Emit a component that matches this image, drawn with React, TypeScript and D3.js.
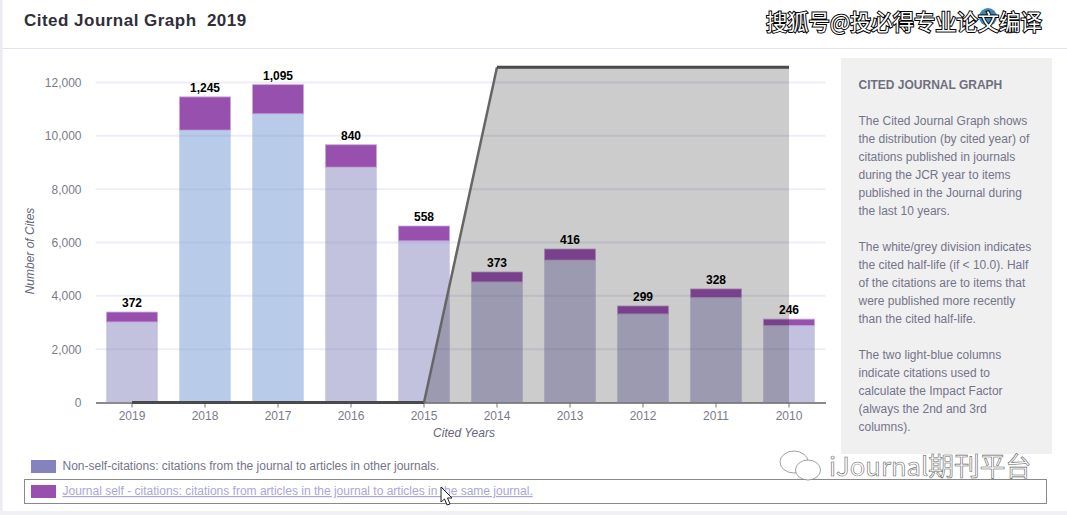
// App.tsx
import React, { useEffect, useRef } from 'react';
import * as d3 from 'd3';

const years = ['2019', '2018', '2017', '2016', '2015', '2014', '2013', '2012', '2011', '2010'];
const nonSelfCites = [3020, 10215, 10825, 8825, 6060, 4520, 5340, 3320, 3930, 2880];
const selfCites = [372, 1245, 1095, 840, 558, 373, 416, 299, 328, 246];
const impactYears = ['2018', '2017'];
const yTicks = [0, 2000, 4000, 6000, 8000, 10000, 12000];
const halfLifeTop = 12570;

const sidebarLines = [
  ['The Cited Journal Graph shows', 'the distribution (by cited year) of', 'citations published in journals', 'during the JCR year to items', 'published in the Journal during', 'the last 10 years.'],
  ['The white/grey division indicates', 'the cited half-life (if < 10.0). Half', 'of the citations are to items that', 'were published more recently', 'than the cited half-life.'],
  ['The two light-blue columns', 'indicate citations used to', 'calculate the Impact Factor', '(always the 2nd and 3rd', 'columns).'],
];

const FONT = '"Liberation Sans", Arial, sans-serif';
const CJK = '"Noto Sans CJK SC", sans-serif';
const WIDTH = 1067;
const HEIGHT = 515;

const App: React.FC = () => {
  const svgRef = useRef<SVGSVGElement>(null);

  useEffect(() => {
    if (!svgRef.current) return;
    const svg = d3.select(svgRef.current);
    svg.selectAll('*').remove();
    svg.style('font-family', FONT);

    // card frame
    svg.append('rect').attr('width', WIDTH).attr('height', HEIGHT).attr('fill', '#fff');
    svg.append('rect').attr('x', 0).attr('y', 0).attr('width', 2.5).attr('height', HEIGHT).attr('fill', '#ebebf2');
    svg.append('rect').attr('x', 0).attr('y', 511).attr('width', WIDTH).attr('height', 4).attr('fill', '#f1f1f5');
    svg.append('rect').attr('x', 2).attr('y', 48).attr('width', WIDTH).attr('height', 1).attr('fill', '#e3e3ee');

    svg.append('text')
      .attr('x', 24).attr('y', 26)
      .style('white-space', 'pre')
      .attr('font-size', 17).attr('font-weight', 'bold').attr('letter-spacing', 0.48).attr('fill', '#2f2f3a')
      .text('Cited Journal Graph  2019');

    const x = d3.scaleBand<string>().domain(years).range([95.5, 825.5]).paddingInner(0.3).paddingOuter(0.15);
    const y = d3.scaleLinear().domain([0, 12000]).range([402.5, 82.5]);
    const cx = (yr: string) => (x(yr) as number) + x.bandwidth() / 2;

    // grid
    svg.append('g').selectAll('line')
      .data(yTicks.filter(d => d > 0))
      .enter().append('line')
      .attr('x1', 95.5).attr('x2', 825.5)
      .attr('y1', d => y(d)).attr('y2', d => y(d))
      .attr('stroke', '#ededf5').attr('stroke-width', 2);

    // y axis
    const yAxis = svg.append('g')
      .attr('transform', 'translate(95.5,0)')
      .call(d3.axisLeft(y).tickValues(yTicks).tickFormat(d3.format(',') as any).tickSize(0).tickPadding(14));
    yAxis.select('.domain').remove();
    yAxis.selectAll('text').attr('font-size', 12).attr('font-family', FONT).attr('fill', '#7b7b88');

    // stacked bars
    const rows = years.map((year, i) => ({ year, nonSelf: nonSelfCites[i], self: selfCites[i] }));
    const bars = svg.append('g').selectAll('g').data(rows).enter().append('g');
    bars.append('rect')
      .attr('x', d => x(d.year) as number)
      .attr('width', x.bandwidth())
      .attr('y', d => y(d.nonSelf))
      .attr('height', d => y(0) - y(d.nonSelf))
      .attr('fill', d => impactYears.includes(d.year) ? '#7299d3' : '#8583bd')
      .attr('fill-opacity', 0.5)
      .attr('stroke', d => impactYears.includes(d.year) ? '#7299d3' : '#8583bd')
      .attr('stroke-opacity', 0.12);
    bars.append('rect')
      .attr('x', d => x(d.year) as number)
      .attr('width', x.bandwidth())
      .attr('y', d => y(d.nonSelf + d.self))
      .attr('height', d => y(d.nonSelf) - y(d.nonSelf + d.self))
      .attr('fill', '#9850ae')
      .attr('stroke', '#c9a8d6')
      .attr('stroke-width', 0.8);

    // x axis
    const xAxis = svg.append('g')
      .attr('transform', 'translate(0,402.5)')
      .call(d3.axisBottom(x).tickSize(5).tickPadding(4).tickSizeOuter(0));
    xAxis.select('.domain').attr('stroke', '#8b8b8b').attr('stroke-width', 2);
    xAxis.selectAll('.tick line').attr('stroke', '#777');
    xAxis.selectAll('text').attr('font-size', 12).attr('font-family', FONT).attr('fill', '#7b7b88');

    // half-life division
    const area: [number, number][] = [
      [cx('2015'), y(0)],
      [cx('2014'), y(halfLifeTop)],
      [cx('2010'), y(halfLifeTop)],
      [cx('2010'), y(0)],
    ];
    svg.append('path').attr('d', d3.line()(area) + 'Z').attr('fill', '#000').attr('fill-opacity', 0.2);
    const bottomEdge: [number, number][] = [[cx('2019'), y(0)], [cx('2015'), y(0)]];
    const slantEdge: [number, number][] = [[cx('2015'), y(0)], [cx('2014'), y(halfLifeTop)]];
    const topEdge: [number, number][] = [[cx('2014'), y(halfLifeTop)], [cx('2010'), y(halfLifeTop)]];
    svg.append('path').attr('d', d3.line()(bottomEdge)).attr('fill', 'none').attr('stroke', '#4a4a4a').attr('stroke-width', 3);
    svg.append('path').attr('d', d3.line()(slantEdge)).attr('fill', 'none').attr('stroke', '#666').attr('stroke-width', 2.5);
    svg.append('path').attr('d', d3.line()(topEdge)).attr('fill', 'none').attr('stroke', '#4a4a4a').attr('stroke-width', 3);

    // value labels
    svg.append('g').selectAll('text').data(rows).enter().append('text')
      .attr('x', d => cx(d.year))
      .attr('y', d => y(d.nonSelf + d.self) - 5)
      .attr('text-anchor', 'middle')
      .attr('font-size', 12).attr('font-weight', 'bold').attr('fill', '#000')
      .text(d => d3.format(',')(d.self));

    // axis titles
    svg.append('text')
      .attr('transform', 'translate(34,251) rotate(-90)')
      .attr('text-anchor', 'middle').attr('font-size', 12).attr('font-style', 'italic').attr('fill', '#66667a')
      .text('Number of Cites');
    svg.append('text')
      .attr('x', 464).attr('y', 437)
      .attr('text-anchor', 'middle').attr('font-size', 12).attr('font-style', 'italic').attr('fill', '#66667a')
      .text('Cited Years');

    // sidebar
    svg.append('rect').attr('x', 841).attr('y', 58).attr('width', 211).attr('height', 396).attr('fill', '#f0f0f0');
    svg.append('text')
      .attr('x', 858.5).attr('y', 89)
      .attr('font-size', 12).attr('font-weight', 'bold').attr('fill', '#6f6f7f')
      .text('CITED JOURNAL GRAPH');
    let lineY = 125;
    sidebarLines.forEach(par => {
      par.forEach(line => {
        svg.append('text').attr('x', 858.5).attr('y', lineY).attr('font-size', 12).attr('fill', '#74748a').text(line);
        lineY += 18;
      });
      lineY += 18;
    });

    // legend
    svg.append('rect').attr('x', 31).attr('y', 460).attr('width', 25).attr('height', 13).attr('fill', '#8583bd');
    svg.append('text').attr('x', 62.5).attr('y', 470).attr('font-size', 12).attr('fill', '#74748a')
      .text('Non-self-citations: citations from the journal to articles in other journals.');
    svg.append('rect').attr('x', 24.5).attr('y', 479.5).attr('width', 1022).attr('height', 24)
      .attr('fill', '#fff').attr('stroke', '#8a8a8a');
    svg.append('rect').attr('x', 31).attr('y', 485).attr('width', 25).attr('height', 13).attr('fill', '#9850ae');
    svg.append('text').attr('x', 62.5).attr('y', 495).attr('font-size', 12).attr('fill', '#aaa6d8')
      .attr('text-decoration', 'underline')
      .text('Journal self - citations: citations from articles in the journal to articles in the same journal.');

    // pointer
    svg.append('path')
      .attr('d', 'M441 487 L441 502 L444.5 499 L447 505 L450 504 L447.5 498 L452 498 Z')
      .attr('fill', '#fff').attr('stroke', '#222').attr('stroke-width', 1);

    // watermarks
    svg.append('circle').attr('cx', 988).attr('cy', 17).attr('r', 9).attr('fill', '#3f87b5');
    svg.append('text')
      .attr('x', 766).attr('y', 30)
      .attr('font-family', CJK).attr('font-size', 21.3).attr('fill', '#fff')
      .attr('stroke', '#000').attr('stroke-width', 2).style('paint-order', 'stroke')
      .text('搜狐号@投必得专业论文编译');
    const wechat = svg.append('g').attr('fill', '#fff').attr('stroke', '#888').attr('stroke-width', 0.8);
    wechat.append('ellipse').attr('cx', 794).attr('cy', 462).attr('rx', 14).attr('ry', 11);
    wechat.append('ellipse').attr('cx', 808).attr('cy', 470).attr('rx', 12.5).attr('ry', 10);
    svg.append('text')
      .attr('x', 829).attr('y', 476)
      .attr('font-family', CJK).attr('font-size', 25.7).attr('fill', '#fff')
      .attr('stroke', '#666').attr('stroke-width', 0.6)
      .text('iJournal期刊平台');
  }, []);

  return (
    <svg
      ref={svgRef}
      width={WIDTH}
      height={HEIGHT}
      style={{ position: 'absolute', left: 0, top: 0, display: 'block' }}
    />
  );
};

export default App;
